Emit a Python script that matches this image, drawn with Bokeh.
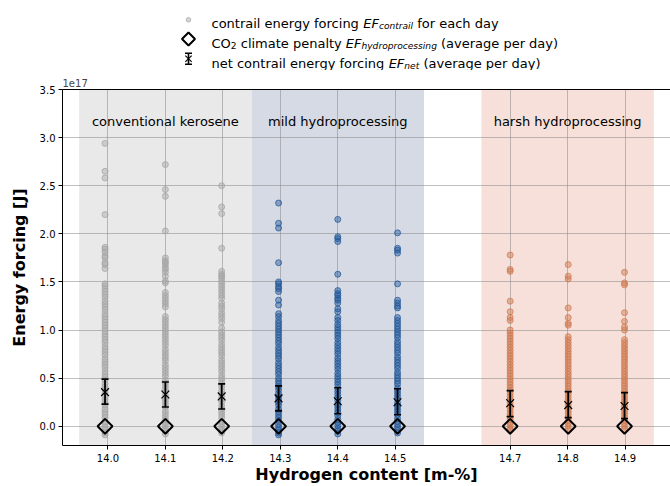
import math
from bokeh.plotting import figure
from bokeh.models import ColumnDataSource, Range1d, FixedTicker, LinearAxis, NumeralTickFormatter
from bokeh.layouts import column
from bokeh.core.properties import value
from bokeh.embed import file_html
from bokeh.resources import INLINE

FONT = "DejaVu Sans"

# ---------------- data (energy forcing in units of 1e17 J) ----------------
x_ticks = [14.0, 14.1, 14.2, 14.3, 14.4, 14.5, 14.7, 14.8, 14.9]
y_ticks = [0.0, 0.5, 1.0, 1.5, 2.0, 2.5, 3.0, 3.5]

h_content = [13.995, 14.100, 14.198, 14.297, 14.400, 14.504, 14.700, 14.801, 14.899]
column_group = ["conventional", "conventional", "conventional",
                "mild", "mild", "mild", "harsh", "harsh", "harsh"]

region_names = ["conventional kerosene", "mild hydroprocessing", "harsh hydroprocessing"]
region_keys = ["conventional", "mild", "harsh"]
region_left = [13.95, 14.25, 14.65]
region_right = [14.25, 14.55, 14.95]
region_center = [14.10, 14.40, 14.80]

ef_14_0 = [2.94, 2.65, 2.58, 2.20, 1.86, 1.84, 1.81, 1.77, 1.75, 1.70, 1.68, 1.64, 1.48, 1.46,
           1.43, 1.40, 1.37, 1.34, 1.30, 1.27, 1.24, 1.21, 1.17, 1.14, 1.11, 1.08, 1.05, 1.02,
           0.99, 0.96, 0.93, 0.90, 0.87, 0.83, 0.80, 0.77, 0.74, 0.70, 0.67, 0.64, 0.61, 0.57,
           0.54, 0.51, 0.48, 0.44, 0.41, 0.38, 0.35, 0.31, 0.28, 0.25, 0.22, 0.18, 0.15, 0.12,
           0.09, 0.05, 0.02, -0.01, -0.04, -0.07, -0.09]
ef_14_1 = [2.72, 2.46, 2.39, 2.03, 1.75, 1.72, 1.70, 1.68, 1.65, 1.63, 1.60, 1.56, 1.51, 1.49,
           1.39, 1.36, 1.33, 1.30, 1.27, 1.24, 1.14, 1.11, 1.08, 1.05, 1.02, 0.99, 0.96, 0.93,
           0.90, 0.87, 0.84, 0.80, 0.77, 0.74, 0.71, 0.68, 0.64, 0.61, 0.58, 0.55, 0.52, 0.48,
           0.45, 0.42, 0.39, 0.36, 0.32, 0.29, 0.26, 0.23, 0.20, 0.16, 0.13, 0.10, 0.07, 0.04,
           0.01, -0.02, -0.05, -0.08]
ef_14_2 = [2.50, 2.28, 2.21, 1.85, 1.61, 1.58, 1.56, 1.54, 1.51, 1.48, 1.45, 1.42, 1.39, 1.36,
           1.33, 1.28, 1.25, 1.22, 1.18, 1.15, 1.12, 1.08, 1.02, 0.98, 0.95, 0.92, 0.89, 0.85,
           0.82, 0.79, 0.76, 0.73, 0.69, 0.66, 0.63, 0.60, 0.57, 0.53, 0.50, 0.47, 0.44, 0.41,
           0.37, 0.34, 0.31, 0.28, 0.25, 0.21, 0.18, 0.15, 0.12, 0.09, 0.05, 0.02, -0.01, -0.04,
           -0.07]
ef_14_3 = [2.32, 2.11, 2.06, 1.70, 1.50, 1.48, 1.45, 1.43, 1.40, 1.31, 1.26, 1.17, 1.14, 1.10,
           1.07, 1.04, 1.01, 0.98, 0.95, 0.92, 0.89, 0.86, 0.82, 0.79, 0.76, 0.73, 0.70, 0.66,
           0.63, 0.60, 0.57, 0.54, 0.50, 0.47, 0.44, 0.41, 0.38, 0.34, 0.31, 0.28, 0.25, 0.22,
           0.18, 0.15, 0.12, 0.09, 0.06, 0.02, -0.01, -0.04, -0.07, -0.09]
ef_14_4 = [2.15, 1.97, 1.95, 1.92, 1.58, 1.41, 1.38, 1.36, 1.33, 1.31, 1.28, 1.22, 1.19, 1.13,
           1.10, 1.06, 1.03, 1.00, 0.97, 0.94, 0.91, 0.87, 0.84, 0.81, 0.78, 0.75, 0.71, 0.68,
           0.65, 0.62, 0.59, 0.55, 0.52, 0.49, 0.46, 0.43, 0.39, 0.36, 0.33, 0.30, 0.27, 0.23,
           0.20, 0.17, 0.14, 0.11, 0.07, 0.04, 0.01, -0.02, -0.05, -0.08]
ef_14_5 = [2.01, 1.85, 1.83, 1.80, 1.48, 1.31, 1.28, 1.25, 1.23, 1.13, 1.10, 1.07, 1.04, 1.01,
           0.98, 0.95, 0.92, 0.88, 0.85, 0.82, 0.79, 0.76, 0.72, 0.69, 0.66, 0.63, 0.60, 0.56,
           0.53, 0.50, 0.47, 0.44, 0.40, 0.37, 0.34, 0.31, 0.28, 0.24, 0.21, 0.18, 0.15, 0.12,
           0.08, 0.05, 0.02, -0.01, -0.04, -0.07]
ef_14_7 = [1.78, 1.63, 1.61, 1.30, 1.19, 1.13, 1.10, 1.00, 0.97, 0.94, 0.91, 0.88, 0.85, 0.82,
           0.79, 0.76, 0.73, 0.70, 0.67, 0.64, 0.61, 0.58, 0.55, 0.52, 0.49, 0.46, 0.43, 0.40,
           0.37, 0.34, 0.31, 0.28, 0.25, 0.22, 0.19, 0.16, 0.13, 0.10, 0.07, 0.04, 0.01, -0.02,
           -0.04]
ef_14_8 = [1.68, 1.56, 1.53, 1.23, 1.13, 1.07, 1.05, 0.93, 0.90, 0.87, 0.84, 0.81, 0.78, 0.75,
           0.72, 0.69, 0.66, 0.63, 0.60, 0.57, 0.54, 0.51, 0.48, 0.45, 0.42, 0.39, 0.36, 0.33,
           0.30, 0.27, 0.24, 0.21, 0.18, 0.15, 0.12, 0.09, 0.06, 0.03, 0.00, -0.03]
ef_14_9 = [1.60, 1.49, 1.47, 1.18, 1.09, 1.03, 1.00, 0.90, 0.87, 0.84, 0.81, 0.78, 0.75, 0.72,
           0.69, 0.66, 0.63, 0.60, 0.57, 0.54, 0.51, 0.48, 0.45, 0.42, 0.39, 0.36, 0.33, 0.30,
           0.27, 0.24, 0.21, 0.18, 0.15, 0.12, 0.09, 0.06, 0.03, 0.00, -0.03]

daily_ef = [ef_14_0, ef_14_1, ef_14_2, ef_14_3, ef_14_4, ef_14_5, ef_14_7, ef_14_8, ef_14_9]

co2_penalty = [0.0, 0.0, 0.0, 0.0, 0.0, 0.0, 0.0, 0.0, 0.0]
net_mean = [0.355, 0.33, 0.31, 0.29, 0.26, 0.25, 0.24, 0.22, 0.21]
net_upper = [0.49, 0.46, 0.44, 0.42, 0.40, 0.39, 0.37, 0.36, 0.35]
net_lower = [0.23, 0.20, 0.18, 0.16, 0.13, 0.12, 0.10, 0.09, 0.08]

x_label = "Hydrogen content [m-%]"
y_label = "Energy forcing [J]"
offset_label = "1e17"

# ---------------- styles / layout ----------------
point_color = {"conventional": "#a6a6a6", "mild": "#23589a", "harsh": "#cf7a50"}
region_color = {"conventional": "#e9e9e9", "mild": "#d5dae4", "harsh": "#f6e0d9"}

y_min, y_max = -0.2, 3.5
x_min, x_max = 13.921, 14.979

W_FIG = 670
H_LEG = 70
H_MAIN = 486 - H_LEG
B_LEFT = 62
FL, FR = B_LEFT, W_FIG


def dx(px):
    return x_min + (px - FL) / (FR - FL) * (x_max - x_min)


# ---------------- main figure ----------------
p = figure(width=W_FIG, height=H_MAIN, x_range=Range1d(x_min, x_max), y_range=Range1d(y_min, y_max),
           output_backend="svg", toolbar_location=None,
           min_border_left=B_LEFT, min_border_right=0, min_border_top=19, min_border_bottom=40)
p.outline_line_color = None
p.background_fill_color = "white"
p.border_fill_color = "white"

p.quad(left=region_left, right=region_right, bottom=[y_min] * 3, top=[y_max] * 3,
       fill_color=[region_color[k] for k in region_keys], line_color=None, level="image")

p.xaxis.ticker = FixedTicker(ticks=x_ticks)
p.yaxis.ticker = FixedTicker(ticks=y_ticks)
p.xaxis.formatter = NumeralTickFormatter(format="0.0")
p.yaxis.formatter = NumeralTickFormatter(format="0.0")
p.xaxis.axis_label = x_label
p.yaxis.axis_label = y_label
for ax in (p.xaxis[0], p.yaxis[0]):
    ax.major_tick_in = 0
    ax.major_tick_out = 4
    ax.major_tick_line_color = "black"
    ax.minor_tick_line_color = None
    ax.axis_line_color = "black"
    ax.major_label_text_font = FONT
    ax.major_label_text_font_size = "10px"
    ax.major_label_text_color = "black"
    ax.axis_label_text_font = FONT
    ax.axis_label_text_font_size = "16px"
    ax.axis_label_text_font_style = "bold"
    ax.axis_label_text_color = "black"
p.xaxis.major_label_standoff = 4
p.xaxis.axis_label_standoff = 0
p.yaxis.axis_label_standoff = 8
p.yaxis.major_label_standoff = 3

top_ax = LinearAxis(ticker=FixedTicker(ticks=[]), major_tick_line_color=None, major_tick_out=0,
                    major_tick_in=0, minor_tick_line_color=None, major_label_text_font_size="0px",
                    major_label_standoff=0, axis_label_standoff=0, axis_line_color="black")
p.add_layout(top_ax, "above")

# offset text of the y axis, drawn as the figure title at the frame's left edge
p.title.text = offset_label
p.title.text_font = FONT
p.title.text_font_size = "10px"
p.title.text_font_style = "normal"
p.title.align = "left"
p.title.standoff = 5

for g in (p.xgrid, p.ygrid):
    g.grid_line_color = "#8a8a8a"
    g.grid_line_alpha = 0.55
    g.grid_line_width = 1
p.xgrid.ticker = FixedTicker(ticks=x_ticks)
p.ygrid.ticker = FixedTicker(ticks=y_ticks)

p.text(x=region_center, y=[3.17] * 3, text=region_names, text_align="center",
       text_baseline="middle", text_font=value(FONT), text_font_size="13px", text_color="black")

xs, ys, cs = [], [], []
for xv, vals, grp in zip(h_content, daily_ef, column_group):
    for v in vals:
        xs.append(xv)
        ys.append(v)
        cs.append(point_color[grp])
src = ColumnDataSource(dict(x=xs, y=ys, color=cs))
p.scatter(x="x", y="y", source=src, marker="circle", size=6, fill_color="color",
          line_color="color", fill_alpha=0.45, line_alpha=0.75, line_width=1)

p.scatter(x=h_content, y=co2_penalty, marker="square", angle=math.pi / 4, size=10.5,
          fill_color=None, line_color="black", line_width=2)

p.segment(x0=h_content, y0=net_lower, x1=h_content, y1=net_upper, line_color="black", line_width=1.8)
p.scatter(x=h_content, y=net_upper, marker="dash", size=7, line_color="black", line_width=1.6)
p.scatter(x=h_content, y=net_lower, marker="dash", size=7, line_color="black", line_width=1.6)
p.scatter(x=h_content, y=net_mean, marker="x", size=11, line_color="black", line_width=1.2)

# ---------------- legend figure (above the main figure) ----------------
lf = figure(width=W_FIG, height=H_LEG, x_range=Range1d(x_min, x_max), y_range=Range1d(H_LEG, 0),
            output_backend="svg", toolbar_location=None, x_axis_type=None, y_axis_type=None,
            min_border_left=B_LEFT, min_border_right=0, min_border_top=0, min_border_bottom=0)
lf.outline_line_color = None
lf.grid.visible = False

W = {' ': 651, '(': 799, ')': 799, '2': 1303, 'a': 1255, 'c': 1100, 'd': 1300, 'e': 1260,
     'f': 721, 'g': 1300, 'h': 1298, 'i': 569, 'l': 569, 'm': 1995, 'n': 1298, 'o': 1253,
     'p': 1300, 'r': 842, 's': 1067, 't': 803, 'v': 1212, 'y': 1212, 'C': 1430, 'E': 1294,
     'F': 1178, 'O': 1612}


def adv(s, size):
    return sum(W.get(c, 1200) for c in s) / 2048.0 * size


FS = 13.0
SUB = 0.7 * FS
legend_lines = [
    [("contrail energy forcing ", "normal", FS, 0), ("EF", "italic", FS, 0),
     ("contrail", "italic", SUB, 2.8), (" for each day", "normal", FS, 0)],
    [("CO", "normal", FS, 0), ("2", "normal", SUB, 2.8), (" climate penalty ", "normal", FS, 0),
     ("EF", "italic", FS, 0), ("hydroprocessing", "italic", SUB, 2.8),
     (" (average per day)", "normal", FS, 0)],
    [("net contrail energy forcing ", "normal", FS, 0), ("EF", "italic", FS, 0),
     ("net", "italic", SUB, 2.8), (" (average per day)", "normal", FS, 0)],
]
baselines = [23.0, 42.5, 62.5]
handle_y = [19.3, 38.5, 58.3]
text_x0 = 211.0
handle_x = 188.0

tx, ty, tt, tsz, tst = [], [], [], [], []
for line, base in zip(legend_lines, baselines):
    x = text_x0
    for s, style, size, drop in line:
        lead = len(s) - len(s.lstrip(" "))
        tx.append(dx(x + adv(" " * lead, size)))
        ty.append(base + drop)
        tt.append(s.strip())
        tsz.append("%.1fpx" % size)
        tst.append(style)
        x += adv(s, size)
lsrc = ColumnDataSource(dict(x=tx, y=ty, text=tt, size=tsz, style=tst))
lf.text(x="x", y="y", text="text", source=lsrc, text_font=value(FONT), text_font_size="size",
        text_font_style="style", text_baseline="alphabetic", text_align="left", text_color="black")

hx = dx(handle_x)
lf.scatter(x=[hx], y=[handle_y[0]], marker="circle", size=4.5, fill_color=point_color["conventional"],
           line_color=point_color["conventional"], fill_alpha=0.45, line_alpha=0.75)
lf.scatter(x=[hx], y=[handle_y[1]], marker="square", angle=math.pi / 4, size=9.2, fill_color=None,
           line_color="black", line_width=2)
lf.segment(x0=[hx], y0=[handle_y[2] - 5.5], x1=[hx], y1=[handle_y[2] + 5.5], line_color="black",
           line_width=1.6)
lf.scatter(x=[hx, hx], y=[handle_y[2] - 5.5, handle_y[2] + 5.5], marker="dash", size=7,
           line_color="black", line_width=1.5)
lf.scatter(x=[hx], y=[handle_y[2]], marker="x", size=9, line_color="black", line_width=1.1)

layout = column(lf, p, spacing=0)
open("out.html", "w").write(file_html(layout, INLINE))
